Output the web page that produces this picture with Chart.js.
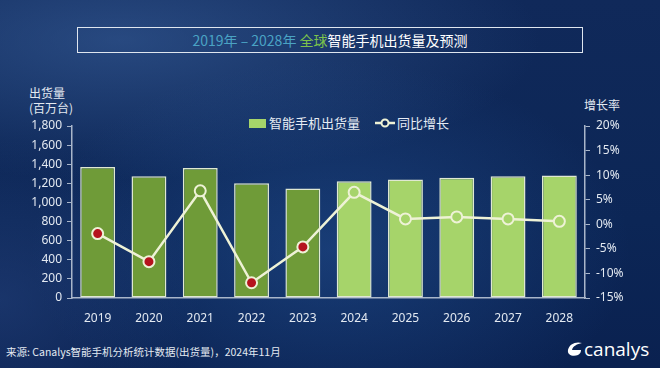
<!DOCTYPE html>
<html>
<head>
<meta charset="utf-8">
<script src="https://cdn.jsdelivr.net/npm/chart.js@4.4.1/dist/chart.umd.min.js"></script>
<style>
  html, body { margin: 0; padding: 0; }
  body {
    width: 660px; height: 368px; overflow: hidden; position: relative;
    font-family: "Noto Sans CJK SC", "Noto Sans", sans-serif;
    color: #e6ecf4;
    background:
      radial-gradient(ellipse 300px 190px at 330px 250px, rgba(40, 90, 160, 0.45), rgba(40, 90, 160, 0) 100%),
      radial-gradient(ellipse 420px 140px at 120px 40px, rgba(60, 100, 160, 0.55), rgba(60, 100, 160, 0) 100%),
      radial-gradient(ellipse 200px 160px at 0px 300px, rgba(40, 70, 130, 0.5), rgba(40, 70, 130, 0) 100%),
      linear-gradient(180deg, #10295a 0%, #0c2656 60%, #0a2150 100%);
  }
  .title {
    position: absolute; left: 77px; top: 27px; width: 504px; height: 24px;
    border: 1.5px solid #dfe6ef; text-align: center; font-size: 14px; line-height: 24px;
    color: #ffffff;
  }
  .title .yr { color: #4aa3c4; }
  .title .gl { color: #7cc24c; }
  .axt { position: absolute; font-size: 12px; line-height: 15px; color: #e3e9f1; }
  .legend { position: absolute; top: 114px; left: 249px; font-size: 13px; height: 18px; line-height: 18px; }
  .legend span { position: absolute; white-space: nowrap; }
  .sw { width: 17px; height: 9px; background: #a6d46a; top: 5px; }
  .foot { position: absolute; left: 6px; top: 344px; font-size: 10.5px; color: #e3e9f1; white-space: nowrap; }
  .logo { position: absolute; left: 566px; top: 336px; font-size: 19px; color: #ffffff; font-family: "Open Sans", sans-serif; white-space: nowrap; }
  #wrap { position: absolute; left: 0; top: 100px; width: 660px; height: 232px; }
</style>
</head>
<body>
<div class="title"><span class="yr">2019年 – 2028年 </span><span class="gl">全球</span>智能手机出货量及预测</div>
<div class="axt" style="left:29px; top:85px;">出货量<br>(百万台)</div>
<div class="axt" style="left:584px; top:97px;">增长率</div>
<div class="legend">
  <span class="sw" style="left:0;"></span>
  <span style="left:20px;">智能手机出货量</span>
  <svg style="position:absolute; left:126px; top:3px;" width="20" height="12">
    <line x1="0" y1="6" x2="20" y2="6" stroke="#eef2d6" stroke-width="2.5"/>
    <circle cx="10" cy="6" r="3.5" fill="#0e2758" stroke="#eef2d6" stroke-width="2"/>
  </svg>
  <span style="left:148px;">同比增长</span>
</div>
<div id="wrap"><canvas id="chart"></canvas></div>
<div class="foot">来源: Canalys智能手机分析统计数据(出货量)，2024年11月</div>
<div class="logo">
  <svg width="18" height="16" style="vertical-align:-1px;" viewBox="0 0 18 16">
    <path d="M16 2 C10 0 3 3 2 9 C1 14 7 16 12 14 C14 13 15 11 15 9 L6 9 C7 5 11 3 16 2 Z" fill="#ffffff"/>
  </svg>canalys</div>
<script>
const years = ['2019', '2020', '2021', '2022', '2023', '2024', '2025', '2026', '2027', '2028'];
const shipments = [1370, 1275, 1360, 1200, 1145, 1222, 1240, 1258, 1275, 1282];
const growth = [-1.9, -7.6, 6.8, -11.9, -4.6, 6.5, 1.1, 1.5, 1.1, 0.6];
const forecastFrom = 5; // index of first forecast year

const histColor = '#6f9b38';
const foreColor = '#a6d46a';
const barColors = years.map((y, i) => i < forecastFrom ? histColor : foreColor);
const pointFill = growth.map((g, i) => g < 0 ? '#b5131d' : barColors[i]);

const tickFont = { family: '"Noto Sans", sans-serif', size: 12 };
const axisColor = '#a9b6ca';
const labelColor = '#e3e9f1';

new Chart(document.getElementById('chart'), {
  type: 'bar',
  data: {
    labels: years,
    datasets: [
      {
        type: 'line',
        label: '同比增长',
        data: growth,
        yAxisID: 'y1',
        borderColor: '#eef2d6',
        borderWidth: 2.5,
        pointRadius: 5.5,
        pointBorderWidth: 2,
        pointBorderColor: '#eef2d6',
        pointBackgroundColor: pointFill,
        tension: 0,
        order: 0
      },
      {
        label: '智能手机出货量',
        data: shipments,
        yAxisID: 'y',
        backgroundColor: barColors,
        borderColor: '#dfe8d2',
        borderWidth: 1.5,
        borderSkipped: false,
        barPercentage: 0.68,
        categoryPercentage: 1,
        order: 1
      }
    ]
  },
  options: {
    responsive: true,
    maintainAspectRatio: false,
    animation: false,
    layout: { padding: { top: 26, left: 0, right: 0, bottom: 0 } },
    plugins: { legend: { display: false }, tooltip: { enabled: false } },
    scales: {
      x: {
        grid: { display: false },
        border: { display: true, color: axisColor, width: 1.5 },
        ticks: { color: labelColor, font: tickFont, padding: 5 },
        afterFit: s => { s.height = 34; }
      },
      y: {
        position: 'left',
        min: 0, max: 1800,
        ticks: {
          stepSize: 200, color: labelColor, font: tickFont, padding: 5,
          callback: v => v.toLocaleString('en-US')
        },
        grid: { drawOnChartArea: false, drawTicks: true, tickLength: 5, color: axisColor },
        border: { display: true, color: axisColor, width: 1.5 },
        afterFit: s => { s.width = 72; }
      },
      y1: {
        position: 'right',
        min: -15, max: 20,
        ticks: {
          stepSize: 5, color: labelColor, font: tickFont, padding: 6,
          callback: v => v + '%'
        },
        grid: { drawOnChartArea: false, drawTicks: true, tickLength: 5, color: axisColor },
        border: { display: true, color: axisColor, width: 1.5 },
        afterFit: s => { s.width = 75; }
      }
    }
  }
});
</script>
</body>
</html>
